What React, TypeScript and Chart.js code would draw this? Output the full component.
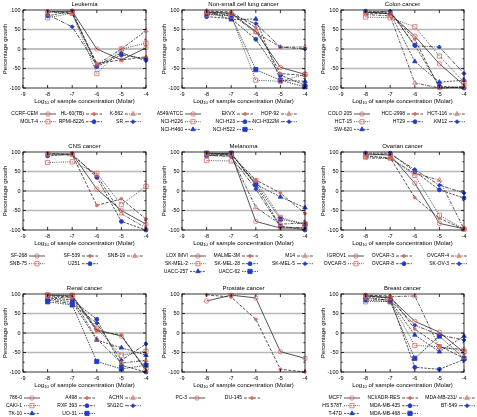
import React, { useEffect, useRef } from 'react';
import { Chart, registerables } from 'chart.js';

Chart.register(...registerables);

// ---------------- DATA ----------------
const X_CONC = [-8, -7, -6, -5, -4];
const X_MIN = -9;
const X_MAX = -4;
const Y_MIN = -100;
const Y_MAX = 100;

const LEUKEMIA_LINES = ['CCRF-CEM', 'HL-60(TB)', 'K-562', 'MOLT-4', 'RPMI-8226', 'SR'];
const LEUKEMIA_GROWTH = [
  [95, 97, 0, -28, 3],
  [97, 93, -37, -28, -20],
  [96, 90, -40, 0, 47],
  [80, 92, -63, 0, 15],
  [85, 97, -45, -15, -25],
  [88, 57, -42, -10, -30],
];

const LUNG_LINES = ['A549/ATCC', 'EKVX', 'HOP-92', 'NCI-H226', 'NCI-H23', 'NCI-H322M', 'NCI-H460', 'NCI-H522'];
const LUNG_GROWTH = [
  [95, 92, 45, -47, -65],
  [97, 95, 55, -63, -68],
  [95, 90, 42, 5, 5],
  [88, 85, -80, -83, -65],
  [83, 78, 25, -67, -93],
  [92, 88, 65, 5, 0],
  [97, 75, 77, -80, -83],
  [90, 85, -53, -80, -97],
];

const COLON_LINES = ['COLO 205', 'HCC-2998', 'HCT-116', 'HCT-15', 'HT29', 'KM12', 'SW-620'];
const COLON_GROWTH = [
  [95, 90, 33, -38, -93],
  [90, 92, 25, -100, -97],
  [88, 85, -87, -100, -97],
  [82, 80, 57, -18, -85],
  [97, 95, 10, -95, -100],
  [93, 97, 8, 5, -63],
  [95, 92, -32, -85, -80],
];

const CNS_LINES = ['SF-268', 'SF-539', 'SNB-19', 'SNB-75', 'U251'];
const CNS_GROWTH = [
  [95, 95, 5, -50, -85],
  [97, 93, -37, -20, -72],
  [93, 92, 40, -58, -95],
  [73, 75, 45, -35, 12],
  [90, 95, 35, -78, -100],
];

const MELANOMA_LINES = ['LOX IMVI', 'MALME-3M', 'M14', 'SK-MEL-2', 'SK-MEL-28', 'SK-MEL-5', 'UACC-257', 'UACC-62'];
const MELANOMA_GROWTH = [
  [97, 95, -78, -95, -95],
  [95, 93, 28, -5, -58],
  [93, 90, -42, -85, -82],
  [78, 77, 27, -68, -85],
  [95, 97, 15, -90, -100],
  [92, 88, 5, -92, -95],
  [90, 95, 17, -15, -43],
  [97, 97, 18, -72, -85],
];

const OVARIAN_LINES = ['IGROV1', 'OVCAR-3', 'OVCAR-4', 'OVCAR-5', 'OVCAR-8', 'SK-OV-3'];
const OVARIAN_GROWTH = [
  [95, 92, 20, -83, -97],
  [90, 85, -17, -70, -98],
  [85, 83, 45, 28, -97],
  [88, 85, 40, -62, -98],
  [97, 97, 50, 3, -18],
  [92, 95, 55, 15, -5],
];

const RENAL_LINES = ['786-0', 'A498', 'ACHN', 'CAKI-1', 'RXF 393', 'SN12C', 'TK-10', 'UO-31'];
const RENAL_GROWTH = [
  [97, 95, 8, -8, -93],
  [95, 93, 5, -5, -97],
  [92, 90, -15, -77, -70],
  [98, 97, 12, -57, -47],
  [90, 85, 35, -83, -100],
  [85, 75, 25, -70, -28],
  [88, 80, -18, -38, -57],
  [80, 72, -73, -92, -83],
];

const PROSTATE_LINES = ['PC-3', 'DU-145'];
const PROSTATE_GROWTH = [
  [82, 97, 90, -48, -65],
  [98, 92, 35, -93, -100],
];

const BREAST_LINES = ['MCF7', 'NCI/ADR-RES', 'MDA-MB-231/', 'HS 578T', 'MDA-MB-435', 'BT-549', 'T-47D', 'MDA-MB-468'];
const BREAST_GROWTH = [
  [95, 90, 30, 2, -50],
  [97, 95, 10, -33, -65],
  [93, 93, 95, -37, -42],
  [80, 82, -32, -35, -47],
  [97, 88, -88, -93, -68],
  [88, 85, 20, -5, -18],
  [92, 83, -5, -48, -8],
  [85, 80, -65, -8, -65],
];

// ---------------- STYLE / LAYOUT ----------------
const FONT = '"Liberation Sans", Arial, sans-serif';
const RED = '#e0675d';
const BLUE = '#1f3bcc';
const LINE = '#2a2a2a';

const STYLES = [
  { color: RED, fill: false, shape: 'circle', r: 2.2, dash: [] as number[] },
  { color: RED, fill: true, shape: 'circle', r: 1.4, dash: [3, 1.5] },
  { color: RED, fill: false, shape: 'triangle', r: 2.6, dash: [3, 1.2, 1, 1.2] },
  { color: RED, fill: false, shape: 'rect', r: 3, dash: [1, 1.2] },
  { color: BLUE, fill: true, shape: 'circle', r: 2, dash: [2.5, 1.2] },
  { color: BLUE, fill: true, shape: 'rectRot', r: 2, dash: [4, 1.2, 1, 1.2] },
  { color: BLUE, fill: true, shape: 'triangle', r: 2.6, dash: [2, 1.2] },
  { color: BLUE, fill: true, shape: 'rect', r: 3, dash: [1.5, 1] },
];

const COL_STEP = 159;
const ROW_STEP = 142;
const OX = 16; // canvas extends this far left of panel origin
const CW = 195;
const CH = 142;
const AREA = { l: 23, r: 146, t: 10, b: 88 };
const LEGEND_ROWS = [114, 121.7, 129.4];

const PANELS = [
  { title: 'Leukemia', names: LEUKEMIA_LINES, values: LEUKEMIA_GROWTH, ends: [38, 84, 123] },
  { title: 'Non-small cell lung cancer', names: LUNG_LINES, values: LUNG_GROWTH, ends: [24, 76, 120] },
  { title: 'Colon cancer', names: COLON_LINES, values: COLON_GROWTH, ends: [34, 87, 129] },
  { title: 'CNS cancer', names: CNS_LINES, values: CNS_GROWTH, ends: [27, 80, 125] },
  { title: 'Melanoma', names: MELANOMA_LINES, values: MELANOMA_GROWTH, ends: [29, 81, 136] },
  { title: 'Ovarian cancer', names: OVARIAN_LINES, values: OVARIAN_GROWTH, ends: [28, 76, 131] },
  { title: 'Renal cancer', names: RENAL_LINES, values: RENAL_GROWTH, ends: [22, 77, 123] },
  { title: 'Prostate cancer', names: PROSTATE_LINES, values: PROSTATE_GROWTH, ends: [28, 83, 130] },
  { title: 'Breast cancer', names: BREAST_LINES, values: BREAST_GROWTH, ends: [24, 82, 139] },
];

function drawMarker(ctx: CanvasRenderingContext2D, st: any, x: number, y: number) {
  const r = st.r;
  ctx.save();
  ctx.setLineDash([]);
  ctx.lineWidth = 0.8;
  ctx.strokeStyle = st.color;
  ctx.fillStyle = st.color;
  ctx.beginPath();
  if (st.shape === 'circle') {
    ctx.arc(x, y, r, 0, Math.PI * 2);
  } else if (st.shape === 'triangle') {
    ctx.moveTo(x, y - r);
    ctx.lineTo(x + r * 0.866, y + r * 0.5);
    ctx.lineTo(x - r * 0.866, y + r * 0.5);
    ctx.closePath();
  } else if (st.shape === 'rect') {
    const h = r * Math.SQRT1_2;
    ctx.rect(x - h, y - h, 2 * h, 2 * h);
  } else {
    ctx.moveTo(x, y - r);
    ctx.lineTo(x + r, y);
    ctx.lineTo(x, y + r);
    ctx.lineTo(x - r, y);
    ctx.closePath();
  }
  if (st.fill) ctx.fill();
  ctx.stroke();
  ctx.restore();
}

function makeDecor(panel: any) {
  return {
    id: 'panelDecor',
    beforeDatasetsDraw(chart: any) {
      const { ctx, chartArea: a, scales } = chart;
      const y = scales.y;
      ctx.save();
      ctx.strokeStyle = '#b8b8b8';
      ctx.lineWidth = 1.6;
      for (const v of [50, -50]) {
        const py = y.getPixelForValue(v);
        ctx.beginPath();
        ctx.moveTo(a.left, py);
        ctx.lineTo(a.right, py);
        ctx.stroke();
      }
      ctx.strokeStyle = '#808080';
      ctx.lineWidth = 1;
      const p0 = y.getPixelForValue(0);
      ctx.beginPath();
      ctx.moveTo(a.left, p0);
      ctx.lineTo(a.right, p0);
      ctx.stroke();
      ctx.restore();
    },
    afterDatasetsDraw(chart: any) {
      const { ctx, chartArea: a, scales } = chart;
      const xs = scales.x;
      const ys = scales.y;
      ctx.save();
      // border
      ctx.strokeStyle = '#000';
      ctx.lineWidth = 0.8;
      ctx.strokeRect(a.left, a.top, a.right - a.left, a.bottom - a.top);
      // ticks
      ctx.beginPath();
      for (let v = Y_MIN; v <= Y_MAX; v += 25) {
        const py = ys.getPixelForValue(v);
        const len = v % 50 === 0 ? 3 : 1.6;
        ctx.moveTo(a.left, py);
        ctx.lineTo(a.left + len, py);
        ctx.moveTo(a.right, py);
        ctx.lineTo(a.right - len, py);
      }
      for (let v = X_MIN; v <= X_MAX; v += 1) {
        const px = xs.getPixelForValue(v);
        ctx.moveTo(px, a.bottom);
        ctx.lineTo(px, a.bottom - 3);
        ctx.moveTo(px, a.top);
        ctx.lineTo(px, a.top + 3);
      }
      ctx.stroke();

      const cx = (a.left + a.right) / 2;
      ctx.fillStyle = '#000';
      // title
      ctx.font = `6px ${FONT}`;
      ctx.textAlign = 'center';
      ctx.textBaseline = 'middle';
      ctx.fillText(panel.title, cx, 4.5);

      // x-axis title with subscript
      const main = 'Log';
      const sub = '10';
      const rest = ' of sample concentration (Molar)';
      ctx.font = `6px ${FONT}`;
      const w1 = ctx.measureText(main).width;
      const w3 = ctx.measureText(rest).width;
      ctx.font = `4.2px ${FONT}`;
      const w2 = ctx.measureText(sub).width;
      let sx = cx - (w1 + w2 + w3) / 2;
      const ty = 101;
      ctx.textAlign = 'left';
      ctx.font = `6px ${FONT}`;
      ctx.fillText(main, sx, ty);
      sx += w1;
      ctx.font = `4.2px ${FONT}`;
      ctx.fillText(sub, sx, ty + 1.6);
      sx += w2;
      ctx.font = `6px ${FONT}`;
      ctx.fillText(rest, sx, ty);

      // y-axis title
      ctx.save();
      ctx.translate(OX + 5, (a.top + a.bottom) / 2);
      ctx.rotate(-Math.PI / 2);
      ctx.textAlign = 'center';
      ctx.fillText('Percentage growth', 0, 0);
      ctx.restore();

      // legend
      ctx.font = `5px ${FONT}`;
      ctx.textBaseline = 'middle';
      panel.names.forEach((name: string, i: number) => {
        const st = STYLES[i];
        const row = Math.floor(i / 3);
        const col = i % 3;
        const ex = OX + panel.ends[col];
        const ey = LEGEND_ROWS[row];
        ctx.fillStyle = '#000';
        ctx.textAlign = 'right';
        ctx.fillText(name, ex, ey);
        ctx.save();
        ctx.strokeStyle = LINE;
        ctx.lineWidth = 0.8;
        ctx.setLineDash(st.dash);
        ctx.beginPath();
        ctx.moveTo(ex + 2, ey);
        ctx.lineTo(ex + 18, ey);
        ctx.stroke();
        ctx.restore();
        drawMarker(ctx, st, ex + 10, ey);
      });
      ctx.restore();
    },
  };
}

function Panel({ panel, idx }: { panel: any; idx: number }) {
  const ref = useRef<HTMLCanvasElement | null>(null);
  useEffect(() => {
    if (!ref.current) return;
    const datasets = panel.names.map((name: string, i: number) => {
      const st = STYLES[i];
      return {
        label: name,
        data: X_CONC.map((x, k) => ({ x, y: panel.values[i][k] })),
        borderColor: LINE,
        borderWidth: 0.8,
        borderDash: st.dash,
        tension: 0,
        fill: false,
        clip: false,
        pointStyle: st.shape,
        pointRadius: st.r,
        pointBorderWidth: 0.8,
        pointBorderColor: st.color,
        pointBackgroundColor: st.fill ? st.color : 'rgba(0,0,0,0)',
      };
    });
    const tickFont = { family: FONT, size: 5.5 };
    const chart = new Chart(ref.current, {
      type: 'line',
      data: { datasets },
      plugins: [makeDecor(panel)],
      options: {
        animation: false,
        responsive: false,
        maintainAspectRatio: false,
        devicePixelRatio: 1,
        layout: { padding: { left: 0, right: CW - (OX + AREA.r), top: AREA.t, bottom: CH - AREA.b - 10 } },
        plugins: { legend: { display: false }, tooltip: { enabled: false }, title: { display: false } },
        scales: {
          x: {
            type: 'linear',
            min: X_MIN,
            max: X_MAX,
            grid: { display: false, drawTicks: false },
            border: { display: false },
            ticks: { stepSize: 1, font: tickFont, color: '#000', padding: 3, maxRotation: 0, autoSkip: false },
            afterFit: (s: any) => { s.height = 10; },
          },
          y: {
            type: 'linear',
            min: Y_MIN,
            max: Y_MAX,
            grid: { display: false, drawTicks: false },
            border: { display: false },
            ticks: { stepSize: 50, font: tickFont, color: '#000', padding: 2.5, autoSkip: false },
            afterFit: (s: any) => { s.width = OX + AREA.l; },
          },
        },
      } as any,
    });
    return () => chart.destroy();
  }, [panel]);
  const col = idx % 3;
  const row = Math.floor(idx / 3);
  return (
    <canvas
      ref={ref}
      width={CW}
      height={CH}
      style={{ position: 'absolute', left: col * COL_STEP - OX, top: row * ROW_STEP, width: CW, height: CH }}
    />
  );
}

export default function App() {
  return (
    <div style={{ position: 'absolute', left: 0, top: 0, width: 477, height: 417, overflow: 'hidden', background: '#fff' }}>
      {PANELS.map((p, i) => (
        <Panel key={i} panel={p} idx={i} />
      ))}
    </div>
  );
}
